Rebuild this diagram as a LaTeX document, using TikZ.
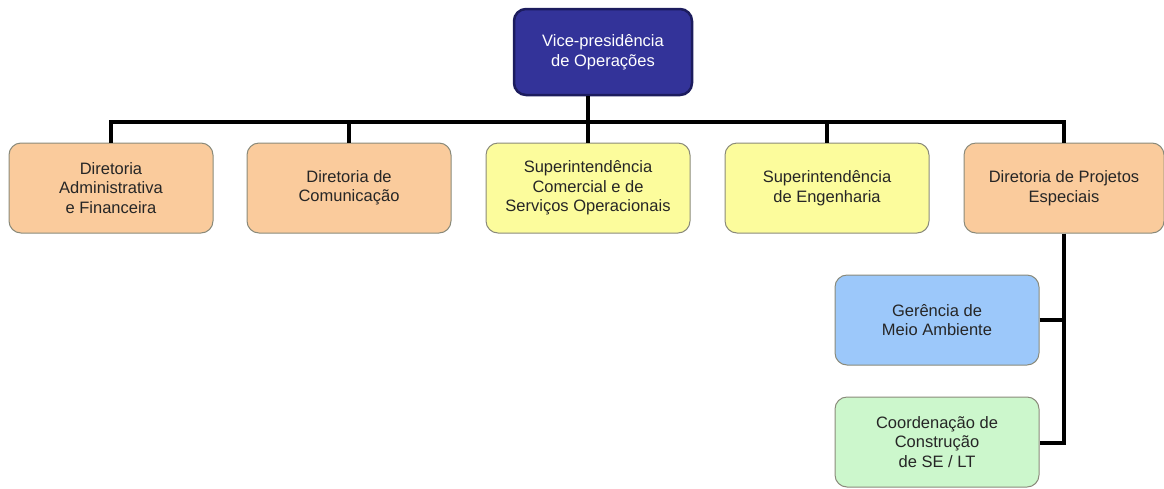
\documentclass[tikz,border=0pt]{standalone}
\usepackage{fontspec}
\setmainfont{Liberation Sans}
\definecolor{navy}{HTML}{333399}
\definecolor{navyb}{HTML}{1C1C5E}
\definecolor{orng}{HTML}{FACB9C}
\definecolor{yell}{HTML}{FCFC9C}
\definecolor{blu}{HTML}{9CC8FA}
\definecolor{grn}{HTML}{CCF7CC}
\definecolor{bord}{HTML}{8A8A7A}
\begin{document}
\begin{tikzpicture}[x=1pt,y=-1pt,
  box/.style={draw=bord, line width=1pt, rounded corners=12pt, minimum width=204pt, minimum height=90pt, align=center, inner sep=2pt, font=\fontsize{16.5}{19.5}\selectfont, text=black!85},
  link/.style={line width=4.5pt, black}]
\useasboundingbox (0,0) rectangle (1164,488);
\node[box, fill=navy, draw=navyb, line width=2.5pt, text=white, minimum width=178pt, minimum height=86pt] (vp) at (603,52) {Vice-presidência\\de Operações};
\node[box, fill=orng] (d1) at (111,188) {Diretoria\\Administrativa\\e Financeira};
\node[box, fill=orng] (d2) at (349,188) {Diretoria de\\Comunicação};
\node[box, fill=yell] (d3) at (588,188) {Superintendência\\Comercial e de\\Serviços Operacionais};
\node[box, fill=yell] (d4) at (827,188) {Superintendência\\de Engenharia};
\node[box, fill=orng, minimum width=200pt] (d5) at (1064,188) {Diretoria de Projetos\\Especiais};
\node[box, fill=blu] (g1) at (937,320) {Gerência de\\Meio Ambiente};
\node[box, fill=grn] (g2) at (937,442) {Coordenação de\\Construção\\de SE / LT};
\coordinate (bus) at (588,122);
\coordinate (bend) at (1064,443);
\draw[link] (vp.south -| bus) -- (bus);
\draw[link] (d1.north) |- (bus) -| (d5.north);
\foreach \n in {d2,d3,d4}
  \draw[link] (\n.north |- bus) -- (\n.north);
\draw[link] (d5.south) -- (bend) -- (g2.east |- bend);
\draw[link] (g1.east) -- (g1.east -| d5.south);
\end{tikzpicture}
\end{document}
